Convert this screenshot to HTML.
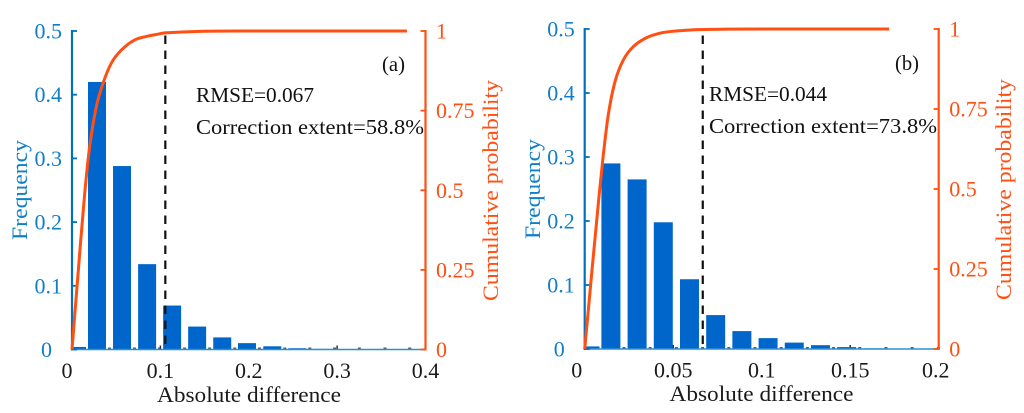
<!DOCTYPE html>
<html lang="en">
<head>
<meta charset="utf-8">
<title>Absolute difference histograms</title>
<style>
  html, body { margin: 0; padding: 0; background: #fff; }
  body { width: 1024px; height: 413px; overflow: hidden; }
  svg { display: block; }
  text { font-family: "Liberation Serif", serif; }
  .lbl { font-size: 22px; fill: #1a1a1a; }
  .ann { font-size: 21.5px; fill: #111; }
  .blue { fill: #0f7fc8; }
  .orange { fill: #ff4f12; }
  .ytitle { font-size: 22px; }
</style>
</head>
<body>
<svg id="chart" width="1024" height="413" viewBox="0 0 1024 413" xmlns="http://www.w3.org/2000/svg">
  <rect width="1024" height="413" fill="#fff"/>
  <g id="panel-a">
    <g id="plot-a"></g>
    <text class="lbl" x="157" y="402" textLength="184" lengthAdjust="spacingAndGlyphs">Absolute difference</text>
    <text class="ytitle blue" transform="translate(27,240) rotate(-90)" textLength="100" lengthAdjust="spacingAndGlyphs">Frequency</text>
    <text class="ytitle orange" transform="translate(498,301) rotate(-90)" textLength="221" lengthAdjust="spacingAndGlyphs">Cumulative probability</text>
    <text class="ann" x="382" y="71" textLength="23" lengthAdjust="spacingAndGlyphs">(a)</text>
    <text class="ann" x="196" y="102" textLength="118" lengthAdjust="spacingAndGlyphs">RMSE=0.067</text>
    <text class="ann" x="196" y="134" textLength="228" lengthAdjust="spacingAndGlyphs">Correction extent=58.8%</text>
  </g>
  <g id="panel-b">
    <g id="plot-b"></g>
    <text class="lbl" x="669.5" y="401" textLength="184" lengthAdjust="spacingAndGlyphs">Absolute difference</text>
    <text class="ytitle blue" transform="translate(540,239) rotate(-90)" textLength="100" lengthAdjust="spacingAndGlyphs">Frequency</text>
    <text class="ytitle orange" transform="translate(1011,300) rotate(-90)" textLength="221" lengthAdjust="spacingAndGlyphs">Cumulative probability</text>
    <text class="ann" x="895" y="70" textLength="24" lengthAdjust="spacingAndGlyphs">(b)</text>
    <text class="ann" x="709" y="101" textLength="118" lengthAdjust="spacingAndGlyphs">RMSE=0.044</text>
    <text class="ann" x="709" y="133" textLength="228" lengthAdjust="spacingAndGlyphs">Correction extent=73.8%</text>
  </g>
</svg>
<script>
// Panel (a) data
const binsA = [0.0056, 0.0283, 0.0566, 0.085, 0.1133, 0.1416, 0.17, 0.198, 0.2266, 0.255, 0.283, 0.311, 0.34, 0.368];
const freqA = [0.004, 0.42, 0.288, 0.134, 0.069, 0.036, 0.019, 0.01, 0.005, 0.002, 0.001, 0.0005, 0.0003, 0.0002];
const cdfXA = [0, 0.0087, 0.0144, 0.02, 0.0275, 0.0351, 0.0445, 0.0558, 0.0709, 0.086, 0.0973, 0.105, 0.145, 0.2, 0.3, 0.379];
const cdfYA = [0, 0.302, 0.491, 0.637, 0.762, 0.836, 0.899, 0.94, 0.972, 0.984, 0.99, 0.994, 0.999, 1, 1, 1];
const xTicksA = [0, 0.1, 0.2, 0.3, 0.4];
const xTickLabelsA = ["0", "0.1", "0.2", "0.3", "0.4"];
const markerA = 0.1056;

// Panel (b) data
const binsB = [0.003, 0.0148, 0.0296, 0.0444, 0.0592, 0.074, 0.0888, 0.1036, 0.1184, 0.1332, 0.148, 0.1628, 0.1776, 0.1924];
const freqB = [0.004, 0.29, 0.265, 0.198, 0.109, 0.053, 0.028, 0.017, 0.01, 0.006, 0.003, 0.001, 0.0005, 0.0003];
const cdfXB = [0, 0.0044, 0.00825, 0.0105, 0.0133, 0.0171, 0.0218, 0.0275, 0.035, 0.0426, 0.0482, 0.06, 0.08, 0.11, 0.172];
const cdfYB = [0, 0.2625, 0.4866, 0.606, 0.731, 0.835, 0.903, 0.945, 0.973, 0.987, 0.992, 0.997, 0.9995, 1, 1];
const xTicksB = [0, 0.05, 0.1, 0.15, 0.2];
const xTickLabelsB = ["0", "0.05", "0.1", "0.15", "0.2"];
const markerB = 0.0667;

// Shared axes
const freqTicks = [0, 0.1, 0.2, 0.3, 0.4, 0.5];
const freqTickLabels = ["0", "0.1", "0.2", "0.3", "0.4", "0.5"];
const probTicks = [0, 0.25, 0.5, 0.75, 1];
const probTickLabels = ["0", "0.25", "0.5", "0.75", "1"];

const NS = "http://www.w3.org/2000/svg";
const BLUE = "#0072bd", ORANGE = "#ff4f12", BAR = "#0066cc";

function mk(parent, tag, attrs) {
  const el = document.createElementNS(NS, tag);
  for (const k in attrs) el.setAttribute(k, attrs[k]);
  parent.appendChild(el);
  return el;
}

// Smooth path through the curve samples, with control points held inside the plot
function smoothPath(xs, ys, sx, sp) {
  const clampX = v => Math.max(0, Math.min(xs[xs.length - 1], v));
  const clampY = v => Math.max(0, Math.min(1, v));
  let d = "M" + sx(xs[0]).toFixed(2) + " " + sp(ys[0]).toFixed(2);
  for (let i = 0; i < xs.length - 1; i++) {
    const a = Math.max(i - 1, 0), b = Math.min(i + 2, xs.length - 1);
    const k1 = (xs[i + 1] - xs[i]) / ((xs[i + 1] - xs[a]) * 3);
    const k2 = (xs[i + 1] - xs[i]) / ((xs[b] - xs[i]) * 3);
    const c1x = clampX(xs[i] + (xs[i + 1] - xs[a]) * k1);
    const c1y = clampY(ys[i] + (ys[i + 1] - ys[a]) * k1);
    const c2x = clampX(xs[i + 1] - (xs[b] - xs[i]) * k2);
    const c2y = clampY(ys[i + 1] - (ys[b] - ys[i]) * k2);
    d += " C" + sx(c1x).toFixed(2) + " " + sp(c1y).toFixed(2) + " " +
         sx(c2x).toFixed(2) + " " + sp(c2y).toFixed(2) + " " +
         sx(xs[i + 1]).toFixed(2) + " " + sp(ys[i + 1]).toFixed(2);
  }
  return d;
}

function drawPanel(cfg) {
  const g = document.getElementById(cfg.id);
  const sx = v => cfg.left + (v / cfg.xMax) * (cfg.right - cfg.left);
  const sy = v => cfg.bottom - (v / 0.5) * (cfg.bottom - cfg.top);
  const sp = v => cfg.bottom - v * (cfg.bottom - cfg.top);

  // small dark marks along the baseline, seen in the gaps between bars
  cfg.bins.forEach((b, i) => {
    if (i === 0) return;
    const step = cfg.bins[2] - cfg.bins[1];
    const m = mk(g, "rect", { x: sx(b + step / 2) - 1.5, y: cfg.bottom - 2, width: 3, height: 2, fill: "#4a6070" });
    
    
  });

  // x-axis inner ticks
  cfg.xTicks.forEach(t => {
    const tk = mk(g, "line", { x1: sx(t), x2: sx(t), y1: cfg.bottom, y2: cfg.bottom - 4, stroke: "#222", "stroke-width": 1.4 });
    
    
  });

  // bars
  cfg.bins.forEach((b, i) => {
    const x0 = Math.max(sx(b) - cfg.barW / 2, cfg.left + 1);
    const x1 = sx(b) + cfg.barW / 2;
    const r = mk(g, "rect", {
      x: x0, y: sy(cfg.freq[i]), width: x1 - x0,
      height: cfg.bottom - sy(cfg.freq[i]),
      fill: BAR
    });
    
    
  });

  // baseline
  const base = mk(g, "line", { x1: cfg.left, x2: cfg.right, y1: cfg.bottom, y2: cfg.bottom, stroke: "#2f8fd0", "stroke-width": 1.6 });
  
  

  // dashed marker
  const dash = mk(g, "line", {
    x1: sx(cfg.marker), x2: sx(cfg.marker), y1: cfg.dashTop, y2: cfg.bottom - 1,
    stroke: "#111", "stroke-width": 2.2, "stroke-dasharray": "8.5 6.5"
  });
  
  

  // left axis
  const la = mk(g, "line", { x1: cfg.left, x2: cfg.left, y1: cfg.top - 1, y2: cfg.bottom + 1, stroke: BLUE, "stroke-width": 2.2 });
  
  
  freqTicks.forEach((t, i) => {
    const tk = mk(g, "line", { x1: cfg.left, x2: cfg.left + 5, y1: sy(t), y2: sy(t), stroke: BLUE, "stroke-width": 1.8 });
    
    
    const lab = mk(g, "text", { x: cfg.left - (t === 0 ? 20 : 10), y: sy(t) + 7.5, "text-anchor": "end", class: "lbl blue" });
    
    
    lab.textContent = freqTickLabels[i];
  });

  // right axis
  const ra = mk(g, "line", { x1: cfg.right, x2: cfg.right, y1: cfg.top - 1, y2: cfg.bottom + 1, stroke: ORANGE, "stroke-width": 2.2 });
  
  
  probTicks.forEach((t, i) => {
    const tk = mk(g, "line", { x1: cfg.right, x2: cfg.right - 5, y1: sp(t), y2: sp(t), stroke: ORANGE, "stroke-width": 1.8 });
    
    
    const lab = mk(g, "text", { x: cfg.right + 10.5, y: sp(t) + 7.5, class: "lbl orange" });
    
    
    lab.textContent = probTickLabels[i];
  });

  // x tick labels
  cfg.xTicks.forEach((t, i) => {
    const off = i === 0 ? cfg.zeroOff : (i === cfg.xTicks.length - 1 ? cfg.lastOff : 0);
    const lab = mk(g, "text", { x: sx(t) + off, y: cfg.bottom + 28.5, "text-anchor": "middle", class: "lbl" });
    
    
    lab.textContent = cfg.xLabels[i];
  });

  // cumulative curve
  const curve = mk(g, "path", {
    d: smoothPath(cfg.cdfX, cfg.cdfY, sx, sp),
    fill: "none", stroke: ORANGE, "stroke-width": 3, "stroke-linejoin": "round"
  });
  
  
}

drawPanel({
  id: "plot-a", left: 72, right: 425.5, top: 31, bottom: 349.5, xMax: 0.4, barW: 18,
  bins: binsA, freq: freqA, cdfX: cdfXA, cdfY: cdfYA, xTicks: xTicksA, xLabels: xTickLabelsA,
  marker: markerA, dashTop: 35.5, zeroOff: -5, lastOff: 0
});
drawPanel({
  id: "plot-b", left: 584.7, right: 938.7, top: 29, bottom: 349, xMax: 0.2, barW: 19,
  bins: binsB, freq: freqB, cdfX: cdfXB, cdfY: cdfYB, xTicks: xTicksB, xLabels: xTickLabelsB,
  marker: markerB, dashTop: 35.5, zeroOff: -8, lastOff: -3
});
</script>
</body>
</html>
